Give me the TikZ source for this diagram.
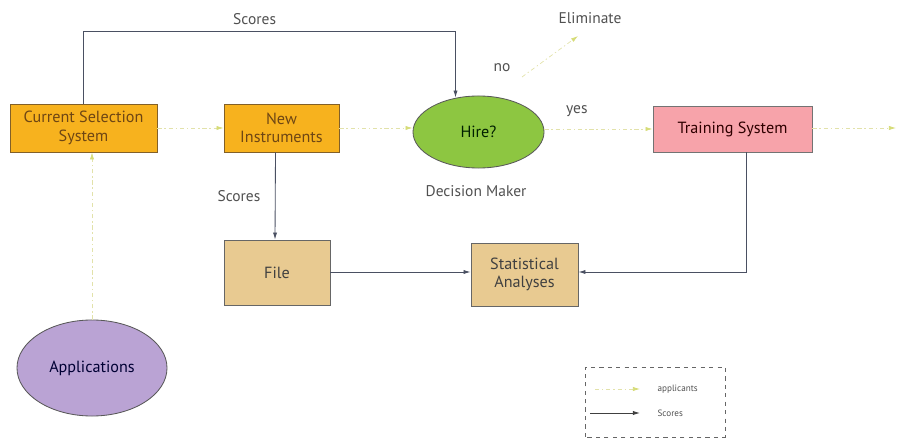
\documentclass[tikz,border=0pt]{standalone}
\usepackage{fontspec}
\setmainfont{PT Sans}
\usepackage{xcolor}
\usetikzlibrary{calc,arrows.meta,positioning,shapes.geometric}
\definecolor{selOrange}{RGB}{247,178,30}
\definecolor{selOrangeDark}{RGB}{130,96,40}
\definecolor{selOrangeText}{RGB}{110,70,20}
\definecolor{hireGreen}{RGB}{141,198,65}
\definecolor{trainPink}{RGB}{247,163,170}
\definecolor{fileTan}{RGB}{232,202,145}
\definecolor{appPurple}{RGB}{186,163,212}
\definecolor{lineSlate}{RGB}{74,80,98}
\definecolor{applYellow}{RGB}{226,226,170}
\definecolor{applTip}{RGB}{214,220,120}
\definecolor{txtGray}{RGB}{80,80,80}

\begin{document}
\begin{tikzpicture}[x=0.025cm,y=0.025cm,
    box/.style={draw=#1, line width=0.6pt, minimum height=1.2cm, inner sep=0pt, align=center, font=\fontsize{11.5}{13}\selectfont},
    oval/.style={ellipse, draw=black!65, line width=0.6pt, inner sep=0pt, font=\fontsize{11.5}{13}\selectfont},
    scoreline/.style={lineSlate, line width=0.6pt, -{Latex[length=5pt,width=3pt]}},
    applline/.style={applYellow, line width=0.5pt, dash pattern=on 3pt off 2pt on 1pt off 2pt, -{Latex[length=5pt,width=3pt,color=applTip]}},
    lbl/.style={text=txtGray, font=\fontsize{11}{13}\selectfont}]

    \useasboundingbox (0,0) rectangle (911,440);

    % boxes
    \node[box=selOrangeDark, fill=selOrange, text=selOrangeText, minimum width=3.675cm] (css) at (83.5,312) {Current Selection\\System};
    \node[box=selOrangeDark, fill=selOrange, text=selOrangeText, minimum width=2.875cm] (newinst) at (281.5,312) {New\\Instruments};
    \node[box=black!55, fill=trainPink, text=black!70!red!60!black, minimum width=3.975cm, minimum height=1.15cm] (train) at (732.5,311) {Training System};
    \node[box=black!60, fill=fileTan, text=black!75, minimum width=2.65cm, minimum height=1.625cm] (file) at (277,167.5) {File};
    \node[box=black!60, fill=fileTan, text=black!75, minimum width=2.675cm, minimum height=1.575cm] (stats) at (524.5,165.5) {Statistical\\Analyses};

    % ovals
    \node[oval, fill=hireGreen, text=black!70!green!40!black, minimum width=3.275cm, minimum height=1.8cm] (hire) at (478.5,308) {Hire?};
    \node[oval, fill=appPurple, text=black!60!blue!50!black, minimum width=3.75cm, minimum height=2.4cm] (apps) at (92,72) {Applications};

    % free labels
    \node[lbl] (dmaker) at (476,249) {Decision Maker};
    \node[lbl] (elim) at (590,422) {Eliminate};
    \coordinate (elimtip) at (578,404);
    \coordinate (elimfrom) at (522,363);
    \coordinate (outtip) at (896,312);

    % applicants flow
    \draw[applline] (apps.north) -- (css.south -| apps.north);
    \draw[applline] (css) -- (newinst);
    \draw[applline] (newinst) -- (hire.west |- newinst);
    \draw[applline] (hire.east |- train) -- node[lbl, pos=0.3, above=5pt] {yes} (train);
    \draw[applline] (elimfrom) -- (elimtip);
    \node[lbl] (nolbl) at (502,372) {no};
    \draw[applline] (train.east |- outtip) -- (outtip);

    % scores flow
    \draw[scoreline] (css.north) -- ++(0,72) -| node[lbl, pos=0.23, above=1pt] {Scores} ($(hire.north)+(-23,-2)$);
    \draw[scoreline] ($(newinst.south)+(-6,0)$) -- node[lbl, left=7pt] {Scores} ($(file.north)+(-2,0)$);
    \draw[scoreline] (file.east |- 0,168) -- (stats.west |- 0,168);
    \draw[scoreline] ($(train.south)+(14,0)$) |- (stats.east |- 0,168);

    % legend
    \draw[black!60, dashed, line width=0.5pt] (585,3) rectangle (725,73);
    \coordinate (legA) at (640,51);
    \coordinate (legS) at (640,27);
    \draw[applline] (595,51) -- (legA);
    \node[lbl, font=\fontsize{6.5}{7}\selectfont, right=9pt of legA] (legAtxt) {applicants};
    \draw[scoreline, black!75] (590,27) -- (legS);
    \node[lbl, font=\fontsize{6.5}{7}\selectfont, right=9pt of legS] (legStxt) {Scores};

\end{tikzpicture}
\end{document}
